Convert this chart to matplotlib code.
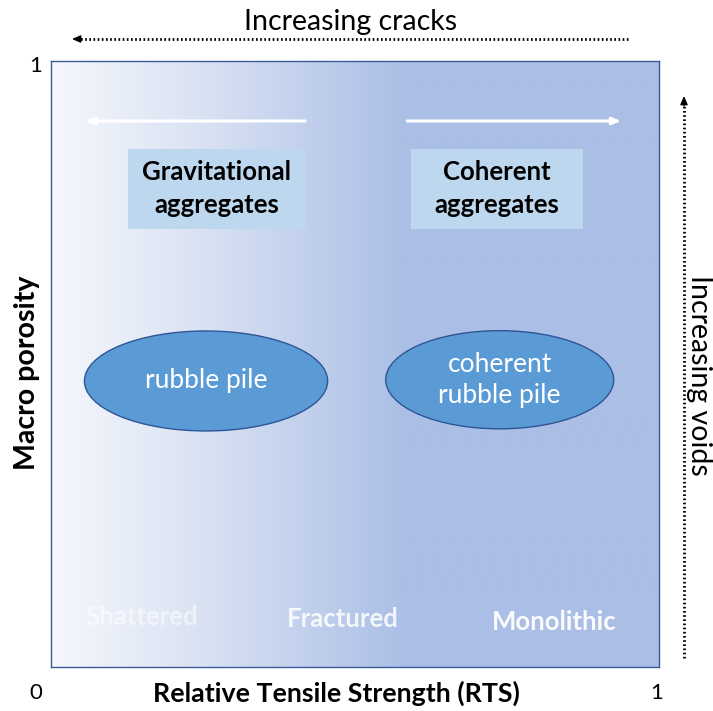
import numpy as np
import matplotlib
matplotlib.use("Agg")
import matplotlib.pyplot as plt
from matplotlib.colors import LinearSegmentedColormap
from matplotlib.patches import Ellipse, Rectangle

plt.rcParams['font.family'] = ['Lato', 'DejaVu Sans']

# ---------------------------------------------------
# Chart content
# ---------------------------------------------------
x_label = "Relative Tensile Strength (RTS)"
y_label = "Macro porosity"
x_ticks = [0, 1]
y_ticks = [1]

regimes = ["Shattered", "Fractured", "Monolithic"]
regime_x = [0.15, 0.48, 0.827]
regime_y = [0.083, 0.079, 0.075]
regime_alpha = [0.55, 0.85, 0.95]

aggregates = ["Gravitational\naggregates", "Coherent\naggregates"]
agg_x0 = [0.127, 0.592]
agg_x1 = [0.418, 0.875]
agg_y0 = [0.723, 0.723]
agg_y1 = [0.855, 0.855]

piles = ["rubble pile", "coherent\nrubble pile"]
pile_cx = [0.255, 0.738]
pile_cy = [0.472, 0.474]
pile_w = [0.40, 0.375]
pile_h = [0.165, 0.162]

# white direction arrows (start -> end) in data coords
arrow_start = [0.418, 0.586]
arrow_end = [0.056, 0.938]
arrow_y = 0.901

# gradient colour stops
grad_pos = [0.0, 0.25, 0.58, 1.0]
grad_col = ["#f5f7fc", "#d9e2f3", "#abbfe6", "#abbfe6"]

fig = plt.figure(figsize=(7.13, 7.11), dpi=100)
ax = fig.add_axes([51 / 713, 1 - 667 / 711, 608 / 713, 606 / 711])

cmap = LinearSegmentedColormap.from_list("bg", list(zip(grad_pos, grad_col)))
grad = np.linspace(0, 1, 512).reshape(1, -1)
ax.imshow(grad, cmap=cmap, extent=[0, 1, 0, 1], aspect='auto', zorder=0)
ax.set_xlim(0, 1)
ax.set_ylim(0, 1)
for s in ax.spines.values():
    s.set_color("#3c5a96")
    s.set_linewidth(1.0)
ax.set_xticks([])
ax.set_yticks([])

# white arrows
for xs, xe in zip(arrow_start, arrow_end):
    ax.annotate("", xy=(xe, arrow_y), xytext=(xs, arrow_y),
                arrowprops=dict(arrowstyle="-|>,head_length=0.5,head_width=0.2",
                                color="white", lw=2.2, shrinkA=0, shrinkB=0))

# aggregate boxes
for lab, x0, x1, y0, y1 in zip(aggregates, agg_x0, agg_x1, agg_y0, agg_y1):
    ax.add_patch(Rectangle((x0, y0), x1 - x0, y1 - y0, facecolor="#bdd7ee",
                           edgecolor="none", zorder=2))
    ax.text((x0 + x1) / 2, (y0 + y1) / 2, lab, ha="center", va="center",
            fontsize=18.5, fontweight="bold", color="black", linespacing=1.45, zorder=3)

# rubble pile ellipses
for lab, cx, cy, w, h in zip(piles, pile_cx, pile_cy, pile_w, pile_h):
    ax.add_patch(Ellipse((cx, cy), w, h, facecolor="#5b9bd5", edgecolor="#2f5597",
                         linewidth=1.0, zorder=2))
    ax.text(cx, cy, lab, ha="center", va="center", fontsize=19, color="white",
            linespacing=1.32, zorder=3)

# regime labels
for lab, x, y, a in zip(regimes, regime_x, regime_y, regime_alpha):
    ax.text(x, y, lab, ha="center", va="center", fontsize=18.5, fontweight="bold",
            color="white", alpha=a, zorder=3)

# axis labels and tick values
fig.text(336 / 713, 1 - 693 / 711, x_label, ha="center", va="center",
         fontsize=19.3, fontweight="bold")
fig.text(27 / 713, 1 - 373 / 711, y_label, ha="center", va="center",
         fontsize=20.5, fontweight="bold", rotation=90)
fig.text(36 / 713, 1 - 693 / 711, str(x_ticks[0]), ha="center", va="center", fontsize=16)
fig.text(657 / 713, 1 - 693 / 711, str(x_ticks[1]), ha="center", va="center", fontsize=16)
fig.text(36 / 713, 1 - 66 / 711, str(y_ticks[0]), ha="center", va="center", fontsize=16)

# outer dotted arrows (figure coordinates)
ov = fig.add_axes([0, 0, 1, 1], facecolor="none")
ov.set_xlim(0, 713)
ov.set_ylim(711, 0)
ov.axis("off")

ov.plot([628, 80], [39, 39], color="black", lw=2, linestyle=(0, (0.6, 0.9)))
ov.annotate("", xy=(72, 39), xytext=(82, 39),
            arrowprops=dict(arrowstyle="-|>,head_length=0.5,head_width=0.22",
                            color="black", lw=1, shrinkA=0, shrinkB=0))
ov.text(351, 22, "Increasing cracks", ha="center", va="center", fontsize=20.5)

ov.plot([684, 684], [658, 105], color="black", lw=2, linestyle=(0, (0.6, 0.9)))
ov.annotate("", xy=(684, 96), xytext=(684, 106),
            arrowprops=dict(arrowstyle="-|>,head_length=0.5,head_width=0.22",
                            color="black", lw=1, shrinkA=0, shrinkB=0))
ov.text(699, 375, "Increasing voids", ha="center", va="center", fontsize=20.5,
        rotation=-90)

fig.savefig("out.png", dpi=100)
